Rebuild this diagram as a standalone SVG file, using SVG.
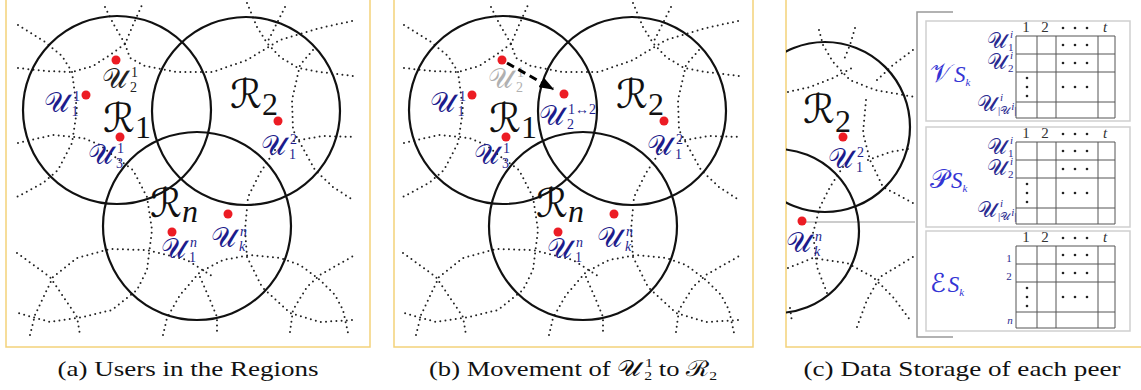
<svg xmlns="http://www.w3.org/2000/svg" xmlns:xlink="http://www.w3.org/1999/xlink" width="1141" height="390" viewBox="0 0 1141 390">
<style>
.frame{fill:none;stroke:#f3d27a;stroke-width:1.5}
.reg{fill:none;stroke:#111;stroke-width:2.2}
.dot{fill:none;stroke:#222;stroke-width:2;stroke-dasharray:0 5.2;stroke-linecap:round;stroke-linejoin:round}
.user{fill:#ec1c24}
.u{font-family:'DejaVu Serif','DejaVu Sans',serif;font-size:28px;fill:#1c1c8c}
.s{font-family:'Liberation Serif',serif;font-size:14px;font-style:normal}
.si{font-family:'Liberation Serif',serif;font-style:italic;font-size:14px}
.R{font-family:'DejaVu Serif','DejaVu Sans',serif;font-size:40px;fill:#111}
.Rs{font-family:'Liberation Serif',serif;font-size:32px}
.cap{font-family:'Liberation Serif',serif;font-size:22px;fill:#111}
.tb{fill:none;stroke:#cfcfcf;stroke-width:1.5}
.gl{stroke:#555;stroke-width:1}
.hd{font-family:'Liberation Serif',serif;font-size:15px;fill:#333;text-anchor:middle}
.td{fill:#222}
.tl{font-family:'DejaVu Serif','DejaVu Sans',serif;font-size:26px;fill:#3434d4}
.tls{font-family:'Liberation Serif',serif;font-style:italic;font-size:23px}
.tu{font-family:'DejaVu Serif','DejaVu Sans',serif;font-size:22px;fill:#2a2a90}
.ts{font-family:'Liberation Serif',serif;font-size:11px;font-style:normal}
.tsi{font-family:'Liberation Serif',serif;font-style:italic;font-size:11px}
</style>
<defs>
<marker id="ah" markerWidth="5" markerHeight="3.6" refX="4.5" refY="1.8" orient="auto" markerUnits="strokeWidth">
<path d="M0,0 L5,1.8 L0,3.6 Z" fill="#000"/>
</marker>
<clipPath id="clipc"><rect x="786" y="0" width="355" height="347"/></clipPath>
<g id="dots-a" class="dot">
<path d="M18,25 L45,42 L62,56 L72,72"/>
<path d="M72,72 L77,110 L72,143 L58,170 L43,183 L15,198"/>
<path d="M18,68 L45,71 L72,72 L93,66 L110,55 L125,44"/>
<path d="M105,7 L114,25 L125,44 L133,25 L142,5"/>
<path d="M125,44 L130,58 L145,66 L177,72 L213,72 L247,60 L280,40 L320,28 L357,20"/>
<path d="M247,3 L257,27 L267,43 L280,57 L298,68 L320,72 L353,76"/>
<path d="M285,7 L276,25 L267,43"/>
<path d="M313,50 L300,65 L292,100 L293,130 L305,152 L315,170 L333,187 L353,200"/>
<path d="M294,141 L323,136 L355,137"/>
<path d="M18,143 L53,135 L83,138 L100,145 L115,157 L133,170 L147,197 L152,230 L147,270 L137,290 L112,310 L83,317 L50,322 L18,313"/>
<path d="M30,335 L35,315 L53,277 L77,258 L110,249 L147,250 L187,260 L215,278"/>
<path d="M17,253 L50,277 L77,317 L80,335"/>
<path d="M163,335 L167,318 L180,295 L200,272 L223,260 L250,255 L280,258 L300,265 L320,280 L335,295 L343,310 L348,333"/>
<path d="M275,150 L260,173 L248,197 L245,230 L247,257 L262,287 L290,313 L320,322 L353,320"/>
<path d="M200,277 L210,300 L217,317 L217,335"/>
<path d="M290,332 L293,310 L307,287 L320,275 L355,255"/>
</g>
<g id="tbl">
<rect class="tb" x="926" y="21" width="204" height="100"/>
<g class="gl">
<line x1="1016" y1="36" x2="1016" y2="118"/><line x1="1037" y1="36" x2="1037" y2="118"/>
<line x1="1056" y1="36" x2="1056" y2="118"/><line x1="1098" y1="36" x2="1098" y2="118"/>
<line x1="1115" y1="36" x2="1115" y2="118"/>
<line x1="1016" y1="36" x2="1115" y2="36"/><line x1="1016" y1="54" x2="1115" y2="54"/>
<line x1="1016" y1="72" x2="1115" y2="72"/><line x1="1016" y1="102" x2="1115" y2="102"/>
<line x1="1016" y1="118" x2="1115" y2="118"/>
</g>
<text class="hd" x="1026" y="32">1</text><text class="hd" x="1045" y="32">2</text>
<text class="hd" x="1105" y="32" font-style="italic">t</text>
<g class="td">
<circle cx="1063" cy="28" r="1.3"/><circle cx="1075" cy="28" r="1.3"/><circle cx="1087" cy="28" r="1.3"/>
<circle cx="1063" cy="45" r="1.3"/><circle cx="1075" cy="45" r="1.3"/><circle cx="1087" cy="45" r="1.3"/>
<circle cx="1063" cy="63" r="1.3"/><circle cx="1075" cy="63" r="1.3"/><circle cx="1087" cy="63" r="1.3"/>
<circle cx="1063" cy="87" r="1.3"/><circle cx="1075" cy="87" r="1.3"/><circle cx="1087" cy="87" r="1.3"/>
<circle cx="1027" cy="78" r="1.3"/><circle cx="1027" cy="87" r="1.3"/><circle cx="1027" cy="96" r="1.3"/>
</g>
</g>
</defs>

<g id="frames">
<rect class="frame" x="6" y="-2" width="364" height="349"/>
<rect class="frame" x="394" y="-2" width="359" height="349"/>
<rect class="frame" x="786" y="-2" width="358" height="349"/>
</g>

<!-- Panel (a) -->
<g id="panel-a">
<use xlink:href="#dots-a"/>
<g id="regions-a">
<circle class="reg" cx="117" cy="110" r="94"/>
<circle class="reg" cx="246" cy="111" r="94"/>
<circle class="reg" cx="197" cy="226" r="94"/>
</g>
<g id="users-a">
<circle class="user" cx="116" cy="60" r="4.5"/>
<circle class="user" cx="86" cy="95" r="4.5"/>
<circle class="user" cx="120" cy="137" r="4.5"/>
<circle class="user" cx="278" cy="121" r="4.5"/>
<circle class="user" cx="172" cy="232" r="4.5"/>
<circle class="user" cx="228" cy="214" r="4.5"/>
</g>
<g id="labels-a">
<text class="R" x="103" y="132">ℛ<tspan class="Rs" dy="6">1</tspan></text>
<text class="R" x="230" y="108">ℛ<tspan class="Rs" dy="7">2</tspan></text>
<text class="R" x="150" y="217">ℛ<tspan class="Rs" dy="5" font-style="italic" font-size="36">n</tspan></text>
<text class="u" x="102" y="88" style="fill:#222">𝒰<tspan class="s" dx="4" dy="-11">1</tspan><tspan class="s" dx="-8" dy="15">2</tspan></text>
<text class="u" x="44" y="112">𝒰<tspan class="s" dx="4" dy="-11">1</tspan><tspan class="s" dx="-8" dy="15">1</tspan></text>
<text class="u" x="88" y="164">𝒰<tspan class="s" dx="4" dy="-11">1</tspan><tspan class="s" dx="-8" dy="15">3</tspan></text>
<text class="u" x="261" y="155">𝒰<tspan class="s" dx="4" dy="-11">2</tspan><tspan class="s" dx="-8" dy="15">1</tspan></text>
<text class="u" x="161" y="258">𝒰<tspan class="si" dx="4" dy="-11">n</tspan><tspan class="s" dx="-8" dy="15">1</tspan></text>
<text class="u" x="211" y="247">𝒰<tspan class="si" dx="4" dy="-11">n</tspan><tspan class="si" dx="-8" dy="15">k</tspan></text>
</g>
</g>

<!-- Panel (b) -->
<g id="panel-b">
<use xlink:href="#dots-a" transform="translate(386,0)"/>
<g id="regions-b">
<circle class="reg" cx="503" cy="110" r="94"/>
<circle class="reg" cx="632" cy="111" r="94"/>
<circle class="reg" cx="583" cy="226" r="94"/>
</g>
<g id="users-b">
<circle class="user" cx="502" cy="60" r="4.5"/>
<circle class="user" cx="472" cy="95" r="4.5"/>
<circle class="user" cx="506" cy="137" r="4.5"/>
<circle class="user" cx="664" cy="121" r="4.5"/>
<circle class="user" cx="558" cy="232" r="4.5"/>
<circle class="user" cx="614" cy="214" r="4.5"/>
<circle class="user" cx="564" cy="94" r="4.5"/>
</g>
<g id="labels-b">
<text class="R" x="489" y="132">ℛ<tspan class="Rs" dy="6">1</tspan></text>
<text class="R" x="616" y="108">ℛ<tspan class="Rs" dy="7">2</tspan></text>
<text class="R" x="536" y="217">ℛ<tspan class="Rs" dy="5" font-style="italic" font-size="36">n</tspan></text>
<text class="u" x="488" y="88" style="fill:#b0b0b0">𝒰<tspan class="s" dx="4" dy="-11">1</tspan><tspan class="s" dx="-8" dy="15">2</tspan></text>
<text class="u" x="430" y="112">𝒰<tspan class="s" dx="4" dy="-11">1</tspan><tspan class="s" dx="-8" dy="15">1</tspan></text>
<text class="u" x="474" y="164">𝒰<tspan class="s" dx="4" dy="-11">1</tspan><tspan class="s" dx="-8" dy="15">3</tspan></text>
<text class="u" x="647" y="155">𝒰<tspan class="s" dx="4" dy="-11">2</tspan><tspan class="s" dx="-8" dy="15">1</tspan></text>
<text class="u" x="547" y="258">𝒰<tspan class="si" dx="4" dy="-11">n</tspan><tspan class="s" dx="-8" dy="15">1</tspan></text>
<text class="u" x="597" y="247">𝒰<tspan class="si" dx="4" dy="-11">n</tspan><tspan class="si" dx="-8" dy="15">k</tspan></text>
<text class="u" x="539" y="125">𝒰<tspan class="s" dx="4" dy="-11">1↔2</tspan><tspan class="s" dx="-29" dy="15">2</tspan></text>
</g>
</g>

<g id="connectors">
<path d="M507,63 L553,89" fill="none" stroke="#000" stroke-width="3" stroke-dasharray="8 5" marker-end="url(#ah)"/>
<line x1="806" y1="222" x2="915" y2="222" stroke="#9a9a9a" stroke-width="1.2"/>
<path d="M953,12 H917 V337 H953" fill="none" stroke="#999" stroke-width="1.5"/>
</g>

<!-- Panel (c) -->
<g id="panel-c">
<g clip-path="url(#clipc)">
<g class="dot">
<path d="M819,30 L823,45 L833,62 L850,80 L875,90 L915,97"/>
<path d="M855,28 L850,45 L843,62"/>
<path d="M788,92 L810,87 L833,78 L852,68"/>
<path d="M877,80 L893,65 L913,50"/>
<path d="M866,100 L863,133 L870,160 L883,187 L913,203"/>
<path d="M868,160 L890,152 L913,148"/>
<path d="M843,167 L830,187 L820,207 L813,233 L817,267 L827,293"/>
<path d="M788,268 L813,258 L847,263 L873,277 L893,297 L910,320"/>
<path d="M857,327 L867,300 L880,277 L913,257"/>
<path d="M790,308 L792,322"/>
</g>
<circle class="reg" cx="825" cy="127" r="85"/>
<circle class="reg" cx="777" cy="231" r="82"/>
</g>
<circle class="user" cx="843" cy="137" r="4.5"/>
<circle class="user" cx="802" cy="221" r="4.5"/>
<text class="R" x="803" y="123" font-size="36">ℛ<tspan class="Rs" dy="9" font-size="29">2</tspan></text>
<text class="u" x="828" y="168" font-size="26">𝒰<tspan class="s" dx="4" dy="-11">2</tspan><tspan class="s" dx="-8" dy="15">1</tspan></text>
<text class="u" x="786" y="252" font-size="26">𝒰<tspan class="si" dx="4" dy="-11">n</tspan><tspan class="si" dx="-8" dy="15">k</tspan></text>
</g>

<g id="table-vs">
<use xlink:href="#tbl"/>
<text class="tl" x="930" y="82">𝒱<tspan class="tls" dx="2">S</tspan><tspan class="tsi" font-size="14" dy="4">k</tspan></text>
<text class="tu" x="987" y="48">𝒰<tspan class="tsi" dx="3" dy="-10">i</tspan><tspan class="ts" dx="-5" dy="13">1</tspan></text>
<text class="tu" x="987" y="69">𝒰<tspan class="tsi" dx="3" dy="-10">i</tspan><tspan class="ts" dx="-5" dy="13">2</tspan></text>
<text class="tu" x="977" y="111">𝒰<tspan class="tsi" dx="3" dy="-10">i</tspan><tspan class="ts" dx="-5" dy="13" font-size="10">|𝒰</tspan><tspan class="tsi" font-size="7" dx="1" dy="-4">i</tspan><tspan class="ts" font-size="10" dy="4">|</tspan></text>
</g>
<g id="table-ps">
<use xlink:href="#tbl" y="106"/>
<text class="tl" x="930" y="188">𝒫<tspan class="tls" dx="2">S</tspan><tspan class="tsi" font-size="14" dy="4">k</tspan></text>
<text class="tu" x="987" y="154">𝒰<tspan class="tsi" dx="3" dy="-10">i</tspan><tspan class="ts" dx="-5" dy="13">1</tspan></text>
<text class="tu" x="987" y="175">𝒰<tspan class="tsi" dx="3" dy="-10">i</tspan><tspan class="ts" dx="-5" dy="13">2</tspan></text>
<text class="tu" x="977" y="217">𝒰<tspan class="tsi" dx="3" dy="-10">i</tspan><tspan class="ts" dx="-5" dy="13" font-size="10">|𝒰</tspan><tspan class="tsi" font-size="7" dx="1" dy="-4">i</tspan><tspan class="ts" font-size="10" dy="4">|</tspan></text>
</g>
<g id="table-es">
<use xlink:href="#tbl" y="210"/>
<text class="tl" x="930" y="292">ℰ<tspan class="tls" dx="2">S</tspan><tspan class="tsi" font-size="14" dy="4">k</tspan></text>
<text class="ts" x="1009" y="262" font-size="15" text-anchor="middle" fill="#2a2a90">1</text>
<text class="ts" x="1009" y="280" font-size="15" text-anchor="middle" fill="#2a2a90">2</text>
<text class="tsi" x="1010" y="324" font-size="15" text-anchor="middle" fill="#2a2a90">n</text>
</g>

<g id="captions">
<text class="cap" x="188" y="376" text-anchor="middle" textLength="261" lengthAdjust="spacingAndGlyphs">(a) Users in the Regions</text>
<text class="cap" x="573" y="376" text-anchor="middle" textLength="288" lengthAdjust="spacingAndGlyphs">(b) Movement of <tspan font-family="DejaVu Serif, serif">𝒰</tspan><tspan font-size="13" dx="3" dy="-9">1</tspan><tspan font-size="13" dx="-7" dy="13">2</tspan><tspan dy="-4"> to </tspan><tspan font-family="DejaVu Serif, serif">ℛ</tspan><tspan font-size="13" dy="4">2</tspan></text>
<text class="cap" x="962" y="376" text-anchor="middle" textLength="317" lengthAdjust="spacingAndGlyphs">(c) Data Storage of each peer</text>
</g>
</svg>
